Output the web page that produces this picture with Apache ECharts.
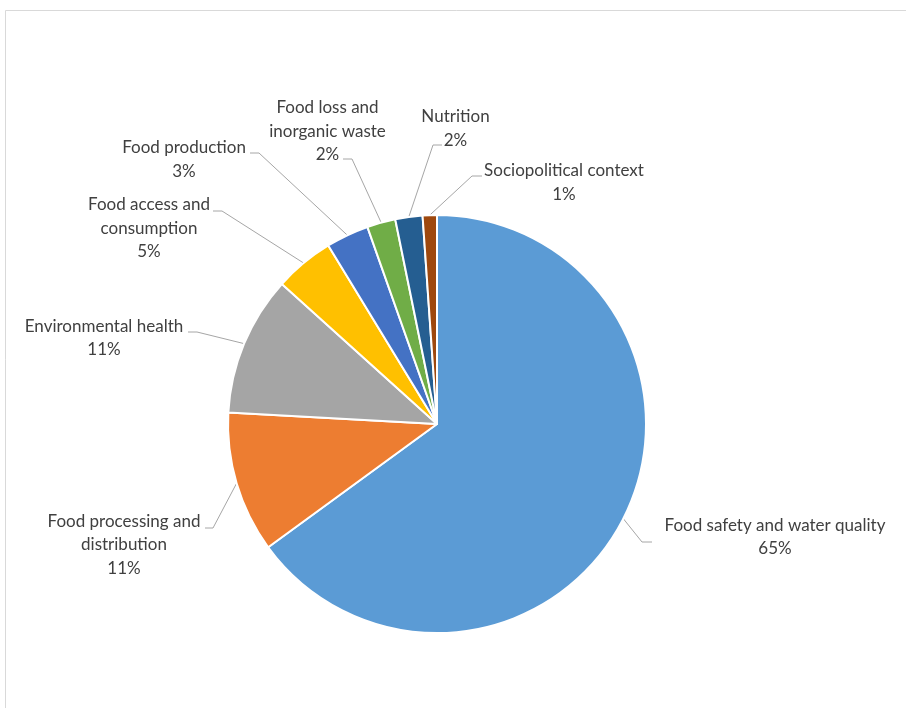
<!DOCTYPE html>
<html>
<head>
<meta charset="utf-8">
<script src="https://cdn.jsdelivr.net/npm/echarts@6/dist/echarts.min.js"></script>
<style>
html,body{margin:0;padding:0;background:#fff;}
#chart{width:906px;height:708px;}
</style>
</head>
<body>
<div id="chart"></div>
<script>
// ---- data ----
const categories = [
  'Food safety and water quality',
  'Food processing and\ndistribution',
  'Environmental health',
  'Food access and\nconsumption',
  'Food production',
  'Food loss and\ninorganic waste',
  'Nutrition',
  'Sociopolitical context'
];
const values = [64.9, 10.9, 10.8, 4.6, 3.3, 2.2, 2.1, 1.1];
const colors = ['#5B9BD5', '#ED7D31', '#A5A5A5', '#FFC000', '#4472C4', '#70AD47', '#255E91', '#9E480E'];

// ---- label layout (label centre x, centre y, leader end x, leader elbow x, leader y) ----
const labelPlace = [
  [775, 537, 652, 642, 542],
  [124, 545, 205, 213, 528],
  [104, 338, 188, 197, 332],
  [149, 228.5, 213, 222, 211],
  [184, 159.5, 250, 259, 153],
  [327.5, 131.5, 343, 352, 159],
  [455.5, 128.5, 442, 433, 145],
  [564, 182.5, 482, 472, 176]
];

const chart = echarts.init(document.getElementById('chart'), null, {renderer: 'canvas'});
chart.setOption({
  animation: false,
  backgroundColor: '#fff',
  graphic: [{
    type: 'rect',
    silent: true,
    shape: {x: 5.5, y: 10.5, width: 1200, height: 1200},
    style: {fill: 'none', stroke: '#d9d9d9', lineWidth: 1}
  }],
  series: [{
    type: 'pie',
    center: [437, 424],
    radius: [0, 209],
    startAngle: 90,
    clockwise: true,
    avoidLabelOverlap: false,
    percentPrecision: 0,
    data: categories.map((n, i) => ({name: n, value: values[i], itemStyle: {color: colors[i]}})),
    itemStyle: {borderColor: '#fff', borderWidth: 2},
    label: {
      show: true,
      position: 'outside',
      formatter: '{b}\n{d}%',
      fontFamily: 'Lato, "Open Sans", sans-serif',
      fontSize: 17,
      lineHeight: 23.5,
      color: '#404040',
      align: 'center'
    },
    labelLine: {show: true, lineStyle: {color: '#a6a6a6', width: 1}},
    labelLayout: function (params) {
      const p = labelPlace[params.dataIndex];
      const start = params.labelLinePoints ? params.labelLinePoints[0] : null;
      const res = {x: p[0], y: p[1], align: 'center', verticalAlign: 'middle'};
      if (start) {
        res.labelLinePoints = [start, [p[3], p[4]], [p[2], p[4]]];
      }
      return res;
    },
    emphasis: {disabled: true}
  }]
});
</script>
</body>
</html>
